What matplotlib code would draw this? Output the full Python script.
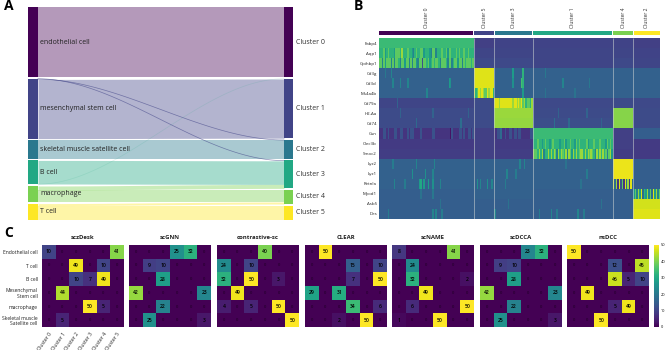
import numpy as np
import matplotlib
matplotlib.use('Agg')
import matplotlib.pyplot as plt

W, H = 666, 350
plt.rcParams['font.family'] = ['Open Sans', 'DejaVu Sans']

# ---- panel A data
left_nodes = ['endothelial cell', 'mesenchymal stem cell', 'skeletal muscle satellite cell',
              'B cell', 'macrophage', 'T cell']
right_nodes = ['Cluster 0', 'Cluster 1', 'Cluster 2', 'Cluster 3', 'Cluster 4', 'Cluster 5']
flow_src = [0, 1, 1, 3, 3, 1, 2, 4, 4, 5, 5]
flow_tgt = [0, 3, 2, 3, 1, 1, 2, 3, 4, 4, 5]
flow_val = [70, 0.4, 0.4, 23.6, 0.4, 59.2, 18.6, 4, 12, 2, 14]

# ---- panel B data
genes = ['Fabp4', 'Aqp1', 'Gpihbp1', 'Cd3g', 'Cd3d', 'Ms4a4b', 'Cd79a', 'H2-Aa', 'Cd74',
         'Gsn', 'Clec3b', 'Smoc2', 'Lyz2', 'Lyz1', 'Retnla', 'Myod1', 'Asb5', 'Des']
heat_clusters = ['Cluster 0', 'Cluster 5', 'Cluster 3', 'Cluster 1', 'Cluster 4', 'Cluster 2']
heat_cells = [64, 14, 26, 54, 14, 18]
heat_levels = [
    [.68, .19, .20, .20, .20, .19],
    [.70, .21, .21, .21, .21, .20],
    [.76, .22, .22, .21, .22, .21],
    [.31, .95, .31, .31, .31, .31],
    [.31, .95, .31, .31, .31, .31],
    [.31, .90, .31, .31, .31, .31],
    [.21, .23, .97, .22, .23, .22],
    [.23, .23, .85, .23, .82, .23],
    [.23, .23, .84, .24, .82, .23],
    [.17, .19, .17, .68, .19, .30],
    [.17, .19, .17, .68, .19, .17],
    [.18, .19, .18, .76, .18, .17],
    [.31, .31, .31, .31, .97, .30],
    [.31, .31, .31, .31, .97, .30],
    [.31, .31, .31, .31, .80, .30],
    [.30, .31, .31, .30, .30, .75],
    [.30, .30, .30, .30, .30, .93],
    [.30, .30, .30, .30, .30, .95],
]
# cell by cell reads of the stripiest blocks, digit = tenths of the colour scale
stripe_rows = {
    (1, 0): '6667567666577768666766546766775666547746667667577666767667667666',
    (2, 0): '7747577747477647757747477547727767567677647776477467757747677767',
    (5, 1): '96798987798996',
    (6, 2): '99989999999989989897867768',
    (9, 0): '1112212111221122111212221111211111112211111111110211112212112212',
    (9, 2): '11223112112212212211111122',
    (10, 3): '666766567665676666566756676657676666756667666766657676',
    (11, 3): '877686846686868748687684875868678868687876486868674785',
    (14, 4): '93819271938193',
    (15, 5): '574859365847395847',
}
# single bright cells in the quiet blocks: (gene, cell, level)
stripe_cells = [
    (3, 8, .45), (3, 4, .4), (4, 9, .45), (4, 14, .45), (4, 19, .45), (4, 47, .55), (4, 48, .5),
    (5, 32, .45), (3, 90, .55), (3, 97, .65), (4, 90, .5), (4, 96, .7), (4, 97, .65), (5, 97, .55),
    (3, 112, .4), (4, 124, .45), (4, 142, .4), (5, 112, .38), (5, 132, .38),
    (6, 12, .32), (7, 14, .32), (7, 36, .32), (8, 25, .34), (8, 55, .36), (7, 60, .32),
    (7, 121, .32), (8, 118, .36), (8, 150, .32), (7, 140, .32), (8, 128, .34),
    (12, 9, .42), (12, 25, .45), (13, 22, .5), (13, 31, .5), (13, 36, .45), (12, 37, .45),
    (14, 10, .45), (14, 17, .42), (14, 27, .55), (14, 28, .6), (14, 30, .55), (14, 33, .55),
    (14, 36, .5), (14, 41, .45), (14, 66, .5), (14, 68, .45), (14, 73, .5), (14, 76, .45),
    (13, 86, .45), (13, 92, .42), (12, 95, .45), (12, 98, .45), (14, 85, .42),
    (15, 28, .38), (15, 36, .4), (16, 41, .38), (17, 6, .42), (17, 36, .45), (17, 38, .45),
    (17, 42, .42), (17, 78, .45), (16, 87, .38), (17, 108, .42), (17, 116, .45), (17, 120, .42),
    (17, 134, .45), (17, 138, .42), (16, 150, .38), (12, 126, .38), (13, 140, .42), (14, 136, .38),
]

# ---- panel C data
row_labels = ['Endothelial cell', 'T cell', 'B cell', 'Mesenchymal\nStem cell', 'macrophage',
              'Skeletal muscle\nSatellite cell']
col_labels = ['Cluster 0', 'Cluster 1', 'Cluster 2', 'Cluster 3', 'Cluster 4', 'Cluster 5']
methods = ['sczDesk', 'scGNN', 'contrastive-sc', 'CLEAR', 'scNAME', 'scDCCA', 'nsDCC']
sczDesk = [[10, 0, 0, 0, 0, 41], [0, 0, 49, 0, 10, 0], [0, 0, 10, 7, 49, 0],
           [0, 44, 0, 0, 0, 0], [0, 0, 0, 50, 5, 0], [0, 5, 0, 0, 0, 0]]
scGNN = [[0, 0, 0, 25, 32, 0], [0, 9, 10, 0, 0, 0], [0, 0, 28, 0, 0, 0],
         [42, 0, 0, 0, 0, 23], [0, 0, 22, 0, 0, 0], [0, 25, 0, 0, 0, 3]]
contrastive_sc = [[0, 0, 0, 40, 0, 0], [24, 0, 10, 0, 0, 0], [32, 0, 50, 0, 3, 0],
                  [0, 49, 0, 0, 0, 0], [4, 0, 5, 0, 50, 0], [0, 0, 0, 0, 0, 50]]
clear = [[0, 50, 0, 0, 0, 0], [0, 0, 0, 15, 0, 10], [0, 0, 0, 7, 0, 50],
         [29, 0, 31, 0, 0, 0], [0, 0, 0, 34, 0, 6], [0, 0, 2, 0, 50, 0]]
scNAME = [[8, 0, 0, 0, 41, 0], [0, 24, 0, 0, 0, 0], [0, 32, 0, 0, 0, 2],
          [0, 0, 49, 0, 0, 0], [0, 6, 0, 0, 0, 50], [1, 0, 0, 50, 0, 0]]
scDCCA = [[0, 0, 0, 23, 32, 0], [0, 9, 10, 0, 0, 0], [0, 0, 28, 0, 0, 0],
          [42, 0, 0, 0, 0, 23], [0, 0, 22, 0, 0, 0], [0, 25, 0, 0, 0, 3]]
nsDCC = [[50, 0, 0, 0, 0, 0], [0, 0, 0, 12, 0, 45], [0, 0, 0, 46, 5, 10],
         [0, 49, 0, 0, 0, 0], [0, 0, 0, 5, 49, 0], [0, 0, 50, 0, 0, 0]]
confusions = [sczDesk, scGNN, contrastive_sc, clear, scNAME, scDCCA, nsDCC]
cbar_ticks = [0, 10, 20, 30, 40, 50]

fig = plt.figure(figsize=(W / 100, H / 100), dpi=100)


def px_axes(x0, y0, x1, y1):
    # axes from picture pixels, y counted from the top
    return fig.add_axes([x0 / W, 1 - y1 / H, (x1 - x0) / W, (y1 - y0) / H])


def draw_sankey():
    ax = px_axes(28, 7, 293, 220)
    ax.set_xlim(28, 293)
    ax.set_ylim(213, 0)
    ax.axis('off')
    n = len(left_nodes)
    colors = plt.cm.viridis(np.linspace(0, 1, n))
    src = np.array(flow_src)
    tgt = np.array(flow_tgt)
    val = np.array(flow_val, dtype=float)
    gap = 8 / (n - 1)
    left_size = [val[src == i].sum() for i in range(n)]
    right_size = [val[tgt == i].sum() for i in range(n)]
    left_top = np.concatenate([[0], np.cumsum(np.array(left_size) + gap)[:-1]])
    right_top = np.concatenate([[0], np.cumsum(np.array(right_size) + gap)[:-1]])

    left_used = left_top.copy()
    right_used = right_top.copy()
    t = np.linspace(0, 1, 120)
    s = 3 * t ** 2 - 2 * t ** 3
    x = 38 + t * (284 - 38)
    for a, b, v in zip(src, tgt, val):
        y0 = left_used[a] + (right_used[b] - left_used[a]) * s
        y1 = y0 + v
        if v < 1:
            # hairline flows read darker than the wide bands
            ax.plot(x, (y0 + y1) / 2, color=colors[a], lw=0.5, alpha=0.6 if a == 1 else 0.15)
        else:
            ax.fill_between(x, y0, y1, color=colors[a], alpha=0.4, lw=0)
        left_used[a] += v
        right_used[b] += v

    for i in range(n):
        ax.bar(33, left_size[i], 10, left_top[i], color=colors[i], lw=0)
        ax.bar(288.5, right_size[i], 9, right_top[i], color=colors[i], lw=0)
        ax.text(40, left_top[i] + left_size[i] / 2, left_nodes[i], fontsize=5.0,
                va='center', color='#222222', fontweight='medium')
        ax.text(296, right_top[i] + right_size[i] / 2, right_nodes[i], fontsize=5.0,
                va='center', color='#333333', fontweight='medium', clip_on=False)


def draw_marker_heatmap():
    sizes = np.array(heat_cells)
    edges = np.concatenate([[0], np.cumsum(sizes)])
    grid = np.repeat(np.array(heat_levels), sizes, axis=1)
    for (g, c), digits in stripe_rows.items():
        grid[g, edges[c]:edges[c + 1]] = [int(d) / 10 + 0.05 for d in digits]
    for g, cell, level in stripe_cells:
        grid[g, cell] = level

    ax = px_axes(379, 38, 660, 219)
    ax.imshow(grid, cmap='viridis', vmin=0, vmax=1, aspect='auto', interpolation='nearest',
              extent=(0, sizes.sum(), len(genes), 0))
    ax.vlines(edges[1:-1], 0, len(genes), color='#c8d0d0', lw=0.5, alpha=0.8)
    ax.set_xticks([])
    ax.set_yticks(np.arange(len(genes)) + 0.5, genes, fontsize=3.2, color='#222222')
    ax.tick_params(length=0, pad=1.5)
    for sp in ax.spines.values():
        sp.set_visible(False)

    top = px_axes(379, 31, 660, 35)
    top.set_xlim(0, sizes.sum())
    top.set_ylim(0, 1)
    top.axis('off')
    cols = plt.cm.viridis(np.linspace(0, 1, len(sizes)))
    for i, name in enumerate(heat_clusters):
        top.barh(0.5, sizes[i] - 0.6, 1, left=edges[i] + 0.3, color=cols[i], lw=0)
        top.text(edges[i] + sizes[i] / 2, 1.75, name, rotation=90, fontsize=3.6, ha='center',
                 va='bottom', color='#333333', clip_on=False)


def draw_confusions():
    x_starts = [42, 129, 217, 305, 392, 480, 567]
    for k, (name, mat) in enumerate(zip(methods, confusions)):
        x0 = x_starts[k]
        ax = px_axes(x0, 245, x0 + 82, 327)
        mesh = ax.pcolormesh(np.array(mat), cmap='viridis', vmin=0, vmax=50,
                             edgecolors='face', lw=0)
        ax.set_ylim(6, 0)
        ax.set_title(name, fontsize=4.3, fontweight='bold', pad=4, color='#222222')
        for r in range(6):
            for c in range(6):
                ax.text(c + 0.5, r + 0.5, str(mat[r][c]), ha='center', va='center',
                        fontsize=3.6 if mat[r][c] else 3, color='black',
                        alpha=1 if mat[r][c] else 0.45, fontweight='semibold')
        ax.tick_params(length=0, pad=3)
        if k == 0:
            ax.set_yticks(np.arange(6) + 0.5, row_labels, fontsize=3.6, color='#222222',
                          linespacing=1.1)
            ax.set_xticks(np.arange(6) + 0.5, col_labels, fontsize=3.7, rotation=55,
                          ha='right', rotation_mode='anchor', color='#222222')
        else:
            ax.set_xticks([])
            ax.set_yticks([])
        for sp in ax.spines.values():
            sp.set_visible(False)

    cax = px_axes(654, 245, 659, 327)
    cb = fig.colorbar(mesh, cax=cax, ticks=cbar_ticks)
    cb.ax.tick_params(labelsize=2.8, length=0, pad=1.5)
    cb.outline.set_visible(False)


draw_sankey()
draw_marker_heatmap()
draw_confusions()

fig.text(4 / W, 1 - 6 / H, 'A', fontsize=10, fontweight='bold', va='center')
fig.text(354 / W, 1 - 6 / H, 'B', fontsize=10, fontweight='bold', va='center')
fig.text(4 / W, 1 - 233 / H, 'C', fontsize=10, fontweight='bold', va='center')

fig.savefig('out.png', dpi=100)
